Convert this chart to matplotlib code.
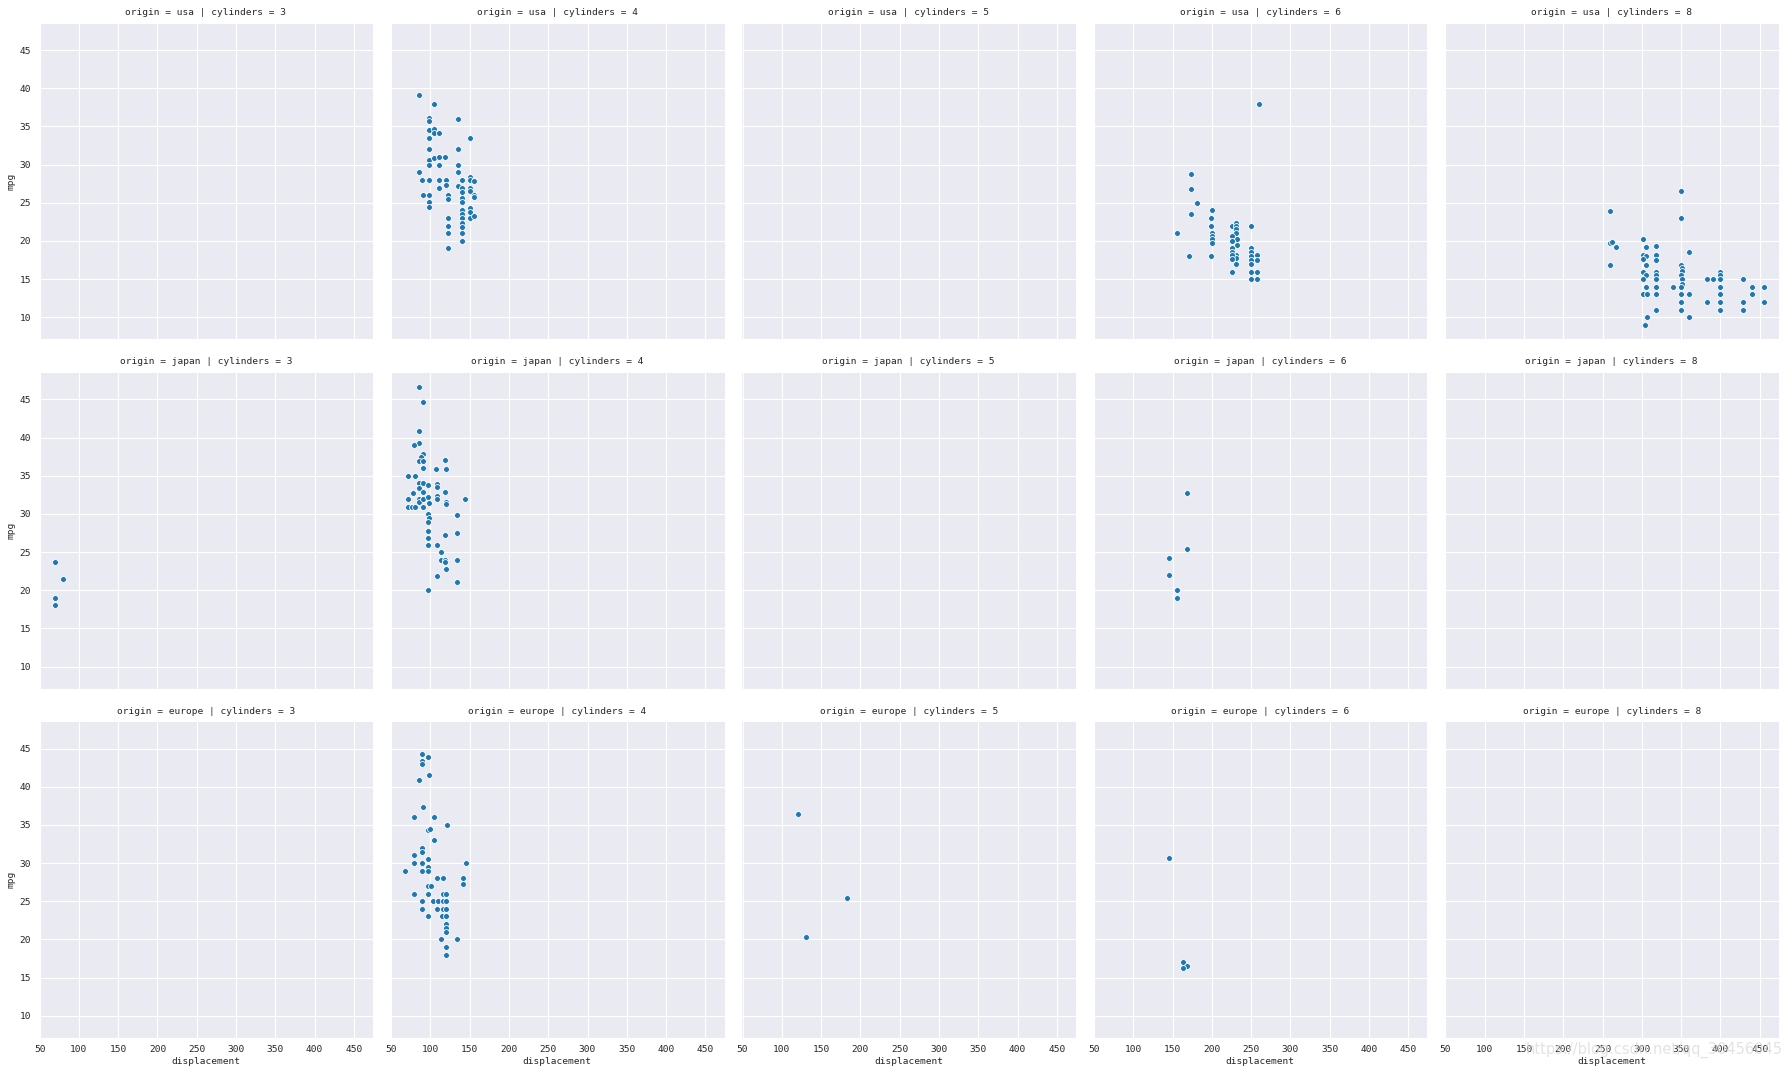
import pandas as pd
import numpy as np
import matplotlib
matplotlib.use('Agg')
import matplotlib.pyplot as plt
import seaborn as sns

# values (displacement, mpg) per facet
usa4_disp = [86, 105, 98, 98, 135, 98, 105, 105, 111, 98, 151, 98, 135,
             98, 98, 105, 111, 119, 111, 135, 135, 85, 90, 98, 111, 120, 120,
             140, 135, 151, 151, 156, 140, 140, 151, 151, 111, 91, 98, 98, 98,
             122, 122, 156, 156, 140, 140, 151, 151, 151, 156,
             140, 140, 140, 140, 140, 122, 122, 122, 140, 140, 122]
usa4_mpg = [39.1, 38.0, 36.1, 35.7, 36.0, 34.5, 34.7, 34.2, 34.1, 33.5, 33.5, 32.1, 32.0,
            30.6, 29.9, 30.9, 31.0, 31.0, 30.0, 30.0, 29.1, 29.0, 28.0, 28.0, 28.0, 28.0, 27.4,
            28.0, 27.2, 28.4, 28.0, 27.9, 27.0, 26.4, 27.0, 26.5, 27.0, 26.0, 26.0, 25.1, 24.5,
            26.0, 25.5, 26.0, 25.7, 25.6, 25.1, 24.3, 23.8, 23.0, 23.3,
            24.1, 23.5, 23.0, 22.4, 21.8, 23.0, 22.0, 21.0, 21.0, 20.0, 19.1]

usa6_disp = [260, 173, 173, 181, 173, 155, 171, 200, 199, 199, 200, 200, 200, 200, 199,
             225, 231, 231, 231, 231, 232, 232, 231, 231, 231,
             225, 225, 225, 225, 225, 225, 225,
             250, 250, 250, 250, 250, 250, 250, 250, 258, 258, 258, 258]
usa6_mpg = [38.0, 28.8, 26.8, 25.0, 23.5, 21.0, 18.0, 24.1, 23.0, 22.0, 21.0, 20.6, 20.3, 19.8, 18.0,
            22.0, 22.4, 22.0, 21.6, 21.1, 20.3, 19.5, 18.2, 17.8, 17.0,
            20.7, 20.0, 19.1, 18.5, 18.2, 17.6, 16.0,
            22.0, 19.1, 18.5, 18.0, 17.5, 17.0, 16.0, 15.0, 18.2, 17.5, 16.0, 15.0]

usa8_disp = [350, 260, 350, 260, 262, 267, 260, 302, 305, 318, 302, 305, 302, 305, 318, 318,
             302, 305, 302, 305, 302, 318, 318, 318, 318, 318, 318, 307, 307, 304, 340,
             350, 351, 351, 350, 351, 351, 350, 350, 350, 350, 360, 360, 360, 383, 390, 383,
             400, 400, 400, 400, 400, 400, 400, 429, 429, 429, 440, 440, 455, 455]
usa8_mpg = [26.6, 23.9, 23.0, 19.8, 19.9, 19.2, 16.9, 20.2, 19.2, 19.4, 18.1, 18.0, 17.6, 16.9, 18.2, 17.5,
            16.0, 15.5, 15.0, 14.0, 13.0, 16.0, 15.5, 15.0, 14.0, 13.0, 11.0, 13.0, 10.0, 9.0, 14.0,
            16.9, 16.5, 16.1, 15.5, 15.0, 14.4, 14.0, 13.0, 12.0, 11.0, 18.5, 13.0, 10.0, 15.0, 15.0, 12.0,
            16.0, 15.5, 15.0, 14.0, 13.0, 12.0, 11.0, 15.0, 12.0, 11.0, 14.0, 13.0, 14.0, 12.0]

japan3_disp = [70, 80, 70, 70]
japan3_mpg = [23.7, 21.5, 19.0, 18.0]

japan4_disp = [86, 91, 85, 85, 79, 91, 88, 85, 91, 119, 91, 107, 120, 72, 81, 86, 91, 85, 97,
               108, 108, 78, 91, 119, 72, 85, 85, 91, 97, 98, 108, 108, 120, 120, 144,
               72, 77, 80, 91, 97, 98, 97, 134, 97, 97, 97, 134, 119, 108, 113, 113, 119, 119,
               134, 120, 108, 134, 97]
japan4_mpg = [46.6, 44.6, 40.8, 39.3, 39.0, 37.8, 37.4, 36.9, 36.9, 37.0, 36.0, 35.9, 35.9, 35.0, 35.0, 34.0, 34.0, 33.4, 33.8,
              33.9, 33.5, 32.7, 32.8, 32.8, 31.9, 31.9, 31.6, 31.9, 32.2, 31.4, 32.3, 31.9, 31.5, 31.3, 32.0,
              30.9, 30.9, 30.9, 30.9, 30.0, 29.4, 28.9, 29.8, 27.8, 26.9, 25.9, 27.5, 27.2, 25.9, 25.0, 23.9, 23.9, 23.7,
              23.9, 22.8, 21.9, 21.1, 20.0]

japan6_disp = [168, 168, 146, 146, 156, 156]
japan6_mpg = [32.7, 25.4, 24.2, 22.0, 20.0, 19.0]

europe4_disp = [90, 97, 90, 90, 98, 85, 91, 79, 105, 121, 97, 100, 105, 90, 90, 79, 79, 97,
                90, 90, 97, 97, 90, 68, 146, 108, 116, 141, 141, 97, 101, 79, 97, 116, 120,
                90, 104, 110, 116, 120, 90, 108, 116, 120, 97, 115, 120, 120, 120, 120,
                114, 134, 120, 120]
europe4_mpg = [44.3, 43.9, 43.4, 43.0, 41.5, 40.9, 37.3, 36.0, 36.0, 35.0, 34.3, 34.5, 33.0, 32.0, 31.5, 31.0, 30.0, 30.5,
               29.9, 30.0, 29.5, 29.0, 29.0, 29.0, 30.0, 28.0, 28.0, 28.1, 27.2, 27.0, 27.0, 26.0, 26.0, 26.0, 26.0,
               25.0, 25.0, 25.0, 25.0, 25.0, 24.0, 24.0, 24.0, 24.0, 23.0, 23.0, 23.0, 22.0, 21.5, 21.0,
               20.0, 20.0, 19.0, 18.0]

europe5_disp = [121, 183, 131]
europe5_mpg = [36.4, 25.4, 20.3]

europe6_disp = [145, 163, 168, 163]
europe6_mpg = [30.7, 17.0, 16.5, 16.2]

origins = ['usa', 'japan', 'europe']
cylinders = [3, 4, 5, 6, 8]

facets = [
    ('usa', 4, usa4_disp, usa4_mpg),
    ('usa', 6, usa6_disp, usa6_mpg),
    ('usa', 8, usa8_disp, usa8_mpg),
    ('japan', 3, japan3_disp, japan3_mpg),
    ('japan', 4, japan4_disp, japan4_mpg),
    ('japan', 6, japan6_disp, japan6_mpg),
    ('europe', 4, europe4_disp, europe4_mpg),
    ('europe', 5, europe5_disp, europe5_mpg),
    ('europe', 6, europe6_disp, europe6_mpg),
]

rows = []
for org, cyl, d, m in facets:
    for x, y in zip(d, m):
        rows.append({'origin': org, 'cylinders': cyl, 'displacement': x, 'mpg': y})
df = pd.DataFrame(rows)

sns.set_style('darkgrid')
plt.rcParams['font.family'] = ['DejaVu Sans Mono', 'DejaVu Sans']
plt.rcParams['axes.titlesize'] = 6.8
plt.rcParams['axes.labelsize'] = 6.8
plt.rcParams['xtick.labelsize'] = 6.8
plt.rcParams['ytick.labelsize'] = 6.8

g = sns.FacetGrid(df, row='origin', col='cylinders',
                  row_order=origins, col_order=cylinders, height=3, aspect=1)
g.map(sns.scatterplot, 'displacement', 'mpg', s=18, color='#1f77b4',
      edgecolor='white', linewidth=0.6)

for ax in g.axes.flat:
    ax.title.set_color('#262626')
    ax.tick_params(pad=2)
    ax.xaxis.labelpad = 2
    ax.yaxis.labelpad = 3

g.fig.set_size_inches(17.92, 10.72)
g.fig.subplots_adjust(left=0.0215, right=0.9927, top=0.978, bottom=0.032,
                      wspace=0.0507, hspace=0.106)

# faint watermark in the lower right corner, as in the reference
g.fig.text(0.995, 0.021, 'https://blog.csdn.net/qq_30456045', ha='right', va='center',
           fontsize=10.5, color='#dcdcdc', family='DejaVu Sans', alpha=0.8)

g.fig.savefig('out.png', dpi=100)
